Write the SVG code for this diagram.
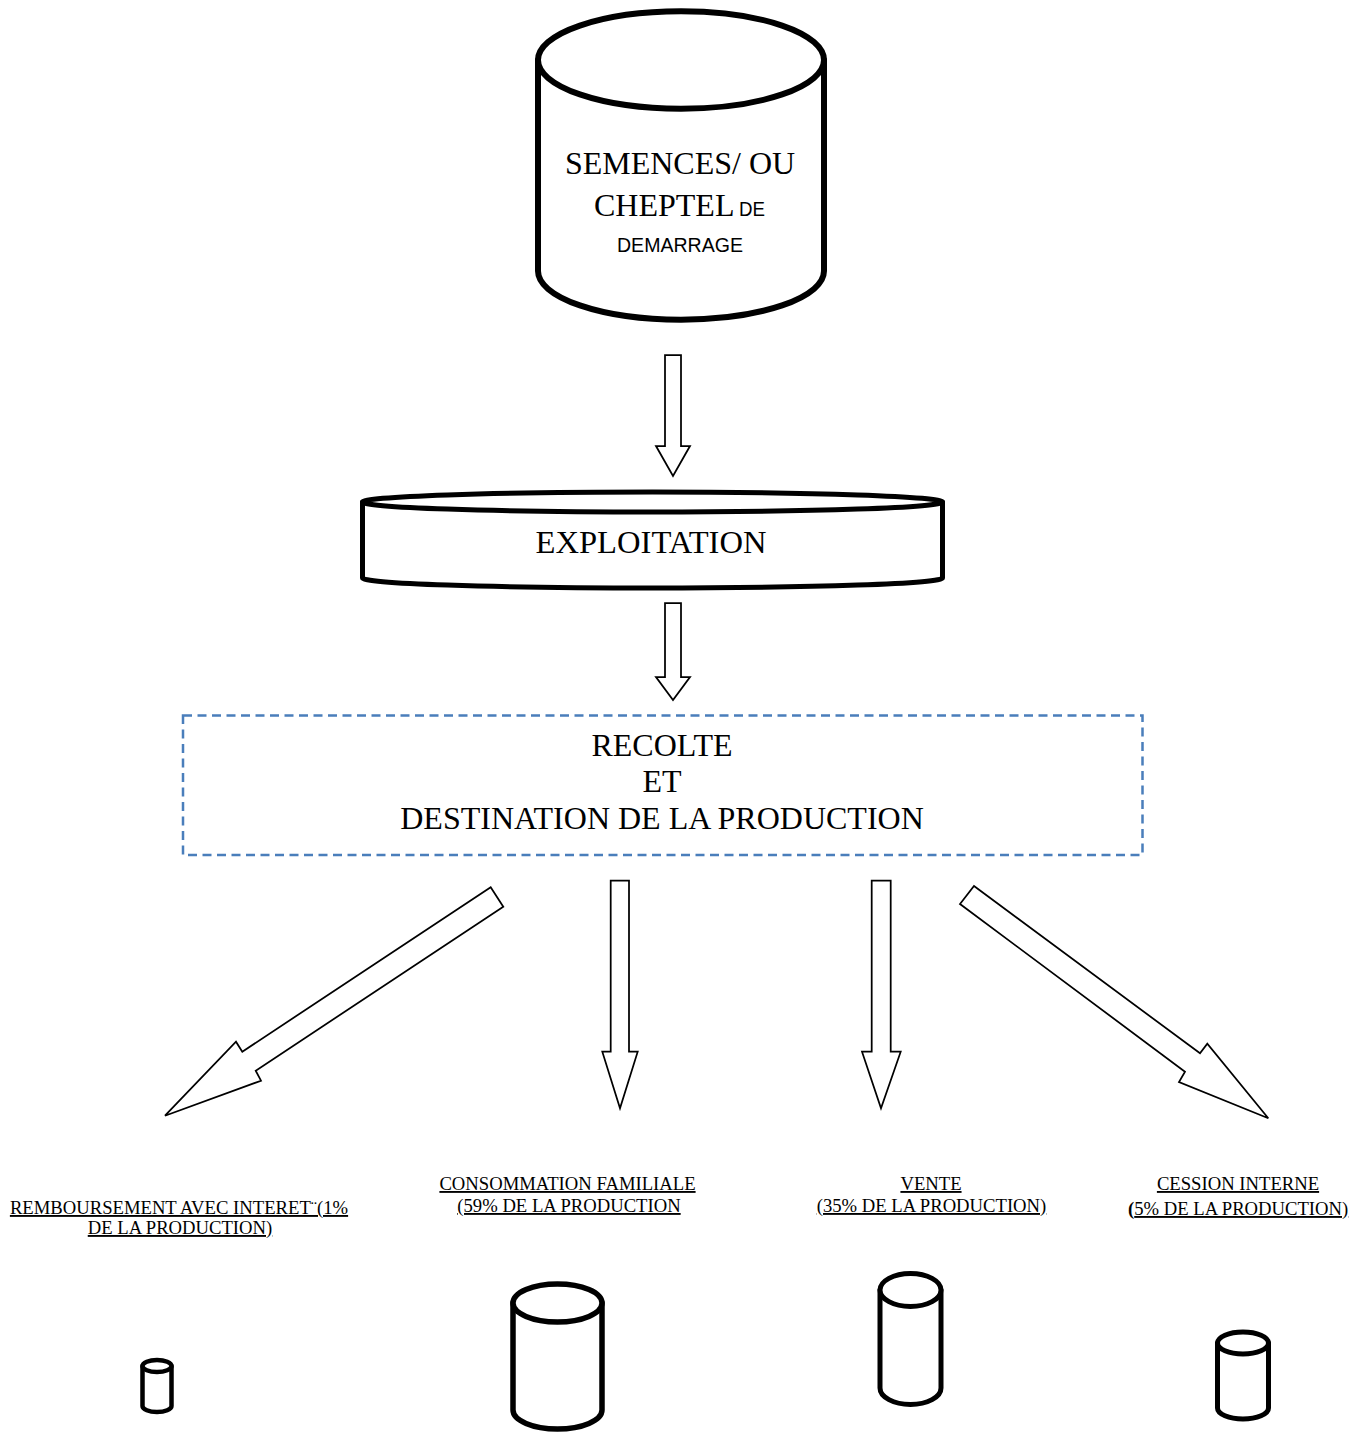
<svg xmlns="http://www.w3.org/2000/svg" width="1359" height="1434" viewBox="0 0 1359 1434">
<style>
.can{fill:#fff;stroke:#000;stroke-linejoin:round}
.arrow{fill:#fff;stroke:#000;stroke-width:1.75;stroke-linejoin:miter}
.big{font-family:"Liberation Serif","Times New Roman",serif;font-size:32px;fill:#000}
.sans{font-family:"Liberation Sans",Arial,sans-serif;font-size:20.5px;fill:#000}
.lbl{font-family:"Liberation Serif","Times New Roman",serif;font-size:18.67px;fill:#000}
.ul{text-decoration:underline}
</style>
<rect width="1359" height="1434" fill="#fff"/>

<g id="semences">
  <path class="can" stroke-width="6" d="M538,60 L538,271 A143,48.7 0 0 0 824,271 L824,60 Z"/>
  <ellipse class="can" stroke-width="6" cx="681" cy="60" rx="143" ry="48.7"/>
  <text class="big" x="680" y="174" text-anchor="middle">SEMENCES/ OU</text>
  <text class="big" x="594" y="216">CHEPTEL</text>
  <text class="sans" x="739" y="216" textLength="26" lengthAdjust="spacingAndGlyphs">DE</text>
  <text class="sans" x="617" y="252" textLength="126" lengthAdjust="spacingAndGlyphs">DEMARRAGE</text>
</g>

<g id="exploitation">
  <path class="can" stroke-width="5" d="M362.5,502 L362.5,578 A290,10 0 0 0 942.5,578 L942.5,502 Z"/>
  <ellipse class="can" stroke-width="5" cx="652.5" cy="502" rx="290" ry="10"/>
  <text class="big" x="651" y="553" text-anchor="middle" textLength="231" lengthAdjust="spacingAndGlyphs">EXPLOITATION</text>
</g>

<g id="recolte">
  <rect x="183" y="715.5" width="959.5" height="139.5" fill="none" stroke="#4a7ebb" stroke-width="2.5" stroke-dasharray="9,5.5"/>
  <text class="big" x="662" y="756" text-anchor="middle">RECOLTE</text>
  <text class="big" x="662" y="792" text-anchor="middle">ET</text>
  <text class="big" x="662" y="829" text-anchor="middle">DESTINATION DE LA PRODUCTION</text>
</g>

<g id="connectors">
  <polygon class="arrow" points="665,355 681,355 681,446 690,446 673,476 656,446 665,446"/>
  <polygon class="arrow" points="665,603 681,603 681,677 690,677 673,700 656,677 665,677"/>
  <polygon class="arrow" points="490.7,887.3 503.3,906.7 255.7,1070.7 261,1080.7 165,1115.7 236,1041.7 242.3,1051.7"/>
  <polygon class="arrow" points="610.7,880.7 629,880.7 629,1051.7 637.7,1051.7 620,1108.3 602.3,1051.7 610.7,1051.7"/>
  <polygon class="arrow" points="871.7,880.7 890.7,880.7 890.7,1051.7 900.7,1051.7 881,1108.3 862,1051.7 871.7,1051.7"/>
  <polygon class="arrow" points="974,886 1200,1053.3 1207.3,1043.7 1268.3,1118.3 1179,1082 1185,1071.7 960,904"/>
</g>

<g id="remboursement">
  <text class="lbl ul" x="179" y="1214" text-anchor="middle">REMBOURSEMENT AVEC INTERET¨(1%</text>
  <text class="lbl ul" x="180" y="1234" text-anchor="middle">DE LA PRODUCTION)</text>
  <path class="can" stroke-width="4.5" d="M142.5,1366 L142.5,1406 A14.5,6 0 0 0 171.5,1406 L171.5,1366 Z"/>
  <ellipse class="can" stroke-width="4.5" cx="157" cy="1366" rx="14.5" ry="6"/>
</g>

<g id="consommation">
  <text class="lbl ul" x="567.5" y="1190" text-anchor="middle">CONSOMMATION FAMILIALE</text>
  <text class="lbl ul" x="569" y="1212" text-anchor="middle">(59% DE LA PRODUCTION</text>
  <path class="can" stroke-width="5.5" d="M513,1303 L513,1410 A44.5,19 0 0 0 602,1410 L602,1303 Z"/>
  <ellipse class="can" stroke-width="5.5" cx="557.5" cy="1303" rx="44.5" ry="19"/>
</g>

<g id="vente">
  <text class="lbl ul" x="931" y="1190" text-anchor="middle">VENTE</text>
  <text class="lbl ul" x="931.5" y="1212" text-anchor="middle">(35% DE LA PRODUCTION)</text>
  <path class="can" stroke-width="5" d="M880,1290 L880,1388 A30.5,16.5 0 0 0 941,1388 L941,1290 Z"/>
  <ellipse class="can" stroke-width="5" cx="910.5" cy="1290" rx="30.5" ry="16.5"/>
</g>

<g id="cession">
  <text class="lbl ul" x="1238" y="1190" text-anchor="middle">CESSION INTERNE</text>
  <text class="lbl" x="1128" y="1215"><tspan font-weight="bold">(</tspan><tspan class="ul">5% DE LA PRODUCTION)</tspan></text>
  <path class="can" stroke-width="5" d="M1217.5,1343 L1217.5,1408 A25.5,11 0 0 0 1268.5,1408 L1268.5,1343 Z"/>
  <ellipse class="can" stroke-width="5" cx="1243" cy="1343" rx="25.5" ry="11"/>
</g>
</svg>
